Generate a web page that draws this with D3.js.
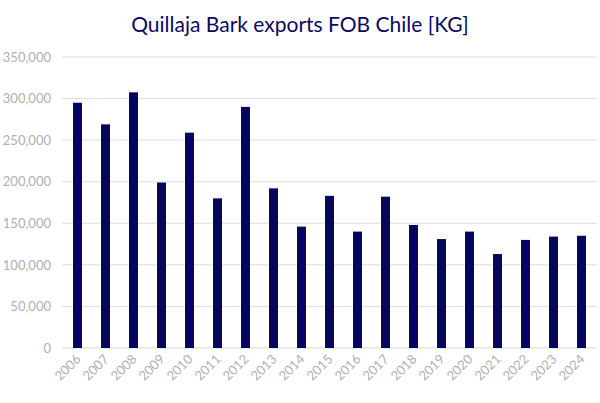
<!DOCTYPE html>
<html><head><meta charset="utf-8">
<script src="https://cdn.jsdelivr.net/npm/d3@7"></script>
<style>body{margin:0;background:#fff}</style>
</head><body><svg></svg>
<script>
const YEARS = ['2006','2007','2008','2009','2010','2011','2012','2013','2014','2015','2016','2017','2018','2019','2020','2021','2022','2023','2024'];
const VALUES = [295000,269000,307500,199000,259000,180000,290000,192000,146000,183000,140000,182000,148000,131000,140000,113000,130000,134000,135000];
const Y_TICKS = [0,50000,100000,150000,200000,250000,300000,350000];

const W = 600, H = 403;
const svg = d3.select('svg').attr('width', W).attr('height', H);

const x = d3.scaleBand().domain(YEARS).range([63.5, 595.5]).paddingInner(0.68).paddingOuter(0.34);
const y = d3.scaleLinear().domain([0, 350000]).range([348, 57]);

svg.append('text').attr('x', 300).attr('y', 32).attr('text-anchor', 'middle')
  .attr('font-family', 'Lato').attr('font-size', 21).attr('fill', '#0a0a5e')
  .text('Quillaja Bark exports FOB Chile [KG]');

// gridlines
svg.append('g').selectAll('line').data(Y_TICKS.slice(1)).enter().append('line')
  .attr('x1', 62).attr('x2', 597).attr('y1', d => y(d)).attr('y2', d => y(d))
  .attr('stroke', '#dedede').attr('stroke-width', 1);

const yAxis = svg.append('g').attr('transform', 'translate(51,0)')
  .call(d3.axisLeft(y).tickValues(Y_TICKS).tickSize(0).tickPadding(0).tickFormat(d3.format(',')));
yAxis.select('.domain').remove();
yAxis.selectAll('text').attr('font-family', 'Lato').attr('font-size', 13).attr('fill', '#b0b0b0');

svg.append('line').attr('x1', 62).attr('x2', 597).attr('y1', y(0)).attr('y2', y(0))
  .attr('stroke', '#d6d6d6');

svg.selectAll('.bar').data(VALUES).enter().append('rect').classed('bar', true)
  .attr('x', (d, i) => x(YEARS[i])).attr('width', x.bandwidth())
  .attr('y', d => y(d)).attr('height', d => y(0) - y(d))
  .attr('fill', '#05055e');

const xAxis = svg.append('g').attr('transform', `translate(0,${y(0)})`)
  .call(d3.axisBottom(x).tickSize(0).tickPadding(0));
xAxis.select('.domain').remove();
xAxis.selectAll('text').attr('font-family', 'Lato').attr('font-size', 13).attr('fill', '#b0b0b0')
  .attr('text-anchor', 'end').attr('dy', 0)
  .attr('transform', 'translate(4,12) rotate(-45)');
</script></body></html>
